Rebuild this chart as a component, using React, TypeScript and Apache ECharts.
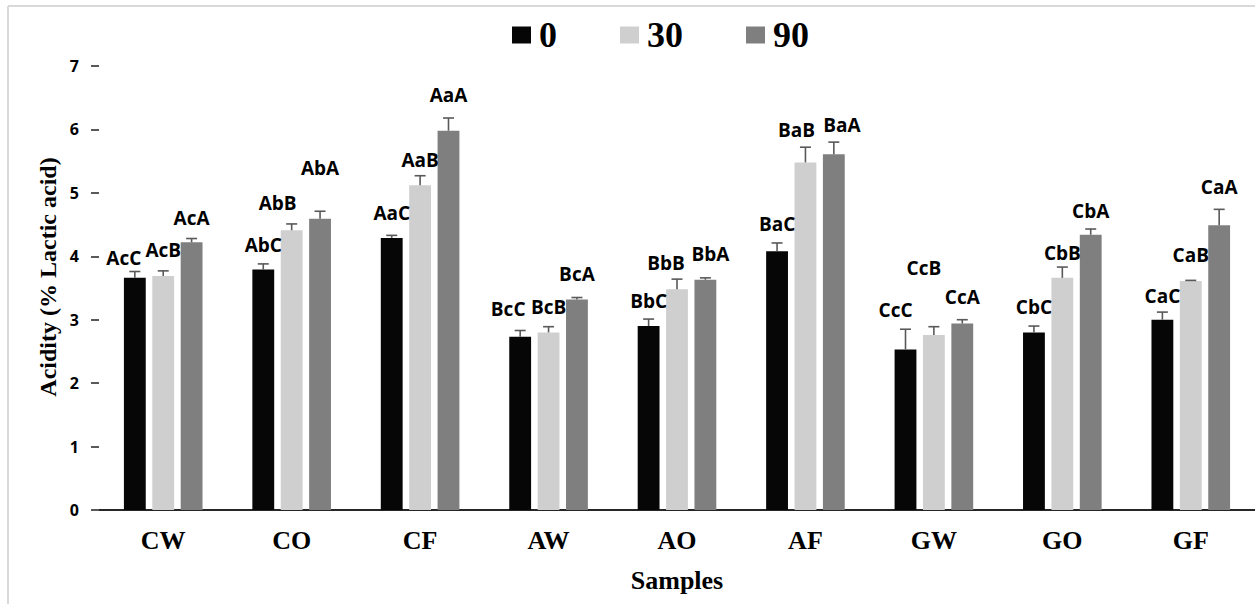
import React, { useEffect, useRef } from 'react';
import * as echarts from 'echarts';

const categories = ['CW', 'CO', 'CF', 'AW', 'AO', 'AF', 'GW', 'GO', 'GF'];
const periods = ['0', '30', '90'];
const values0 = [3.66, 3.79, 4.29, 2.73, 2.90, 4.08, 2.53, 2.80, 3.00];
const values30 = [3.69, 4.41, 5.12, 2.80, 3.48, 5.48, 2.76, 3.66, 3.61];
const values90 = [4.22, 4.59, 5.98, 3.32, 3.63, 5.61, 2.94, 4.34, 4.49];
const err0 = [0.10, 0.09, 0.04, 0.10, 0.11, 0.13, 0.32, 0.10, 0.12];
const err30 = [0.08, 0.10, 0.15, 0.09, 0.16, 0.24, 0.13, 0.17, 0.01];
const err90 = [0.06, 0.12, 0.20, 0.03, 0.03, 0.19, 0.06, 0.09, 0.25];
const letters0 = ['AcC', 'AbC', 'AaC', 'BcC', 'BbC', 'BaC', 'CcC', 'CbC', 'CaC'];
const letters30 = ['AcB', 'AbB', 'AaB', 'BcB', 'BbB', 'BaB', 'CcB', 'CbB', 'CaB'];
const letters90 = ['AcA', 'AbA', 'AaA', 'BcA', 'BbA', 'BaA', 'CcA', 'CbA', 'CaA'];
// vertical level (in axis units) at which each letter label is centred
const letterLevel0 = [3.97, 4.18, 4.68, 3.17, 3.30, 4.51, 3.15, 3.20, 3.37];
const letterLevel30 = [4.10, 4.84, 5.52, 3.20, 3.89, 5.99, 3.82, 4.05, 4.02];
const letterLevel90 = [4.60, 5.39, 6.54, 3.72, 4.04, 6.07, 3.36, 4.71, 5.09];

const yTicks = { min: 0, max: 7, interval: 1 };
const yTitle = 'Acidity (% Lactic acid)';
const xTitle = 'Samples';

// layout: small horizontal nudges (px) of some letter labels, as placed in the original
const labelNudge: Record<string, number> = {
  AcC: -11, AbB: -14, BcC: -12, BbB: -11, BbA: 5, BaB: -9, BaA: 8, CcC: -10, CcB: -10,
};

const colors = ['#060606', '#d0cfcf', '#7f7f7f'];
const BAR_FRAC = 0.17;
const GAP_FRAC = 0.3;

const serif = "'Liberation Serif', 'Times New Roman', serif";
const sans = "'Open Sans', 'Liberation Sans', sans-serif";

export default function App() {
  const ref = useRef<HTMLDivElement>(null);
  useEffect(() => {
    const chart = echarts.init(ref.current!, null, { renderer: 'svg' });
    const vals = [values0, values30, values90];
    const errs = [err0, err30, err90];
    const letters = [letters0, letters30, letters90];
    const levels = [letterLevel0, letterLevel30, letterLevel90];

    const barSeries = periods.map((p, k) => ({
      name: p,
      type: 'bar',
      data: vals[k],
      barWidth: BAR_FRAC * 100 + '%',
      barGap: GAP_FRAC * 100 + '%',
      itemStyle: { color: colors[k] },
      z: 2,
    }));

    const annoSeries = periods.map((p, k) => ({
      type: 'custom',
      name: 'anno' + p,
      z: 5,
      silent: true,
      data: categories.map((c, i) => [i, vals[k][i], vals[k][i] + errs[k][i], levels[k][i]]),
      encode: { x: 0, y: [1, 2, 3] },
      renderItem: (params: any, api: any) => {
        const catW = api.size([1, 0])[0];
        const barW = catW * BAR_FRAC;
        const off = (k - 1) * barW * (1 + GAP_FRAC);
        const base = api.coord([api.value(0), api.value(1)]);
        const top = api.coord([api.value(0), api.value(2)]);
        const lab = api.coord([api.value(0), api.value(3)]);
        const x = base[0] + off;
        const cap = 5.5;
        const txt = letters[k][params.dataIndex];
        return {
          type: 'group',
          children: [
            { type: 'line', shape: { x1: x, y1: base[1], x2: x, y2: top[1] }, style: { stroke: '#595959', lineWidth: 1.6 } },
            { type: 'line', shape: { x1: x - cap, y1: top[1], x2: x + cap, y2: top[1] }, style: { stroke: '#595959', lineWidth: 1.6 } },
            {
              type: 'text',
              x: lab[0] + off + (labelNudge[txt] || 0),
              y: lab[1],
              style: {
                text: txt,
                fill: '#000',
                font: `bold 19px ${sans}`,
                align: 'center',
                verticalAlign: 'middle',
              },
            },
          ],
        };
      },
    }));

    const option: any = {
      animation: false,
      backgroundColor: '#ffffff',
      graphic: [
        { type: 'line', shape: { x1: 8, y1: 6, x2: 8, y2: 604 }, style: { stroke: '#d9d9d9', lineWidth: 2 } },
        { type: 'line', shape: { x1: 8, y1: 6, x2: 1255, y2: 6 }, style: { stroke: '#d9d9d9', lineWidth: 2 } },
        {
          type: 'text',
          x: 48,
          y: 277,
          rotation: Math.PI / 2,
          style: {
            text: yTitle,
            font: `bold 24px ${serif}`,
            fill: '#000',
            align: 'center',
            verticalAlign: 'middle',
          },
        },
      ],
      legend: {
        data: periods,
        left: 512,
        top: 17,
        padding: 0,
        itemWidth: 19,
        itemHeight: 17,
        itemGap: 63,
        icon: 'rect',
        textStyle: { fontFamily: serif, fontWeight: 'bold', fontSize: 36, color: '#000', padding: [0, 0, 0, 3] },
      },
      grid: { left: 99, right: 0, top: 66, bottom: 94, containLabel: false },
      xAxis: {
        type: 'category',
        data: categories,
        axisLine: { lineStyle: { color: '#262626', width: 2 } },
        axisTick: { show: false },
        axisLabel: { fontFamily: serif, fontWeight: 'bold', fontSize: 26, color: '#000', margin: 17 },
        name: xTitle,
        nameLocation: 'middle',
        nameGap: 57,
        nameTextStyle: { fontFamily: serif, fontWeight: 'bold', fontSize: 26, color: '#000' },
      },
      yAxis: {
        type: 'value',
        min: yTicks.min,
        max: yTicks.max,
        interval: yTicks.interval,
        splitLine: { show: false },
        axisLine: {
          show: true,
          lineStyle: {
            width: 2,
            color: new echarts.graphic.LinearGradient(0, 0, 0, 1, [
              { offset: 0, color: '#b4c9e6' },
              { offset: 0.5, color: '#6c7f97' },
              { offset: 1, color: '#000000' },
            ]),
          },
        },
        axisTick: { show: true, length: 8, lineStyle: { color: '#595959', width: 2 } },
        axisLabel: { fontFamily: sans, fontWeight: 'bold', fontSize: 16, color: '#000', margin: 20 },
      },
      series: [...barSeries, ...annoSeries],
    };
    chart.setOption(option);
    return () => chart.dispose();
  }, []);
  return (
    <div style={{ position: 'fixed', left: 0, top: 0, width: 1255, height: 604, background: '#fff' }}>
      <div ref={ref} style={{ width: 1255, height: 604 }} />
    </div>
  );
}
